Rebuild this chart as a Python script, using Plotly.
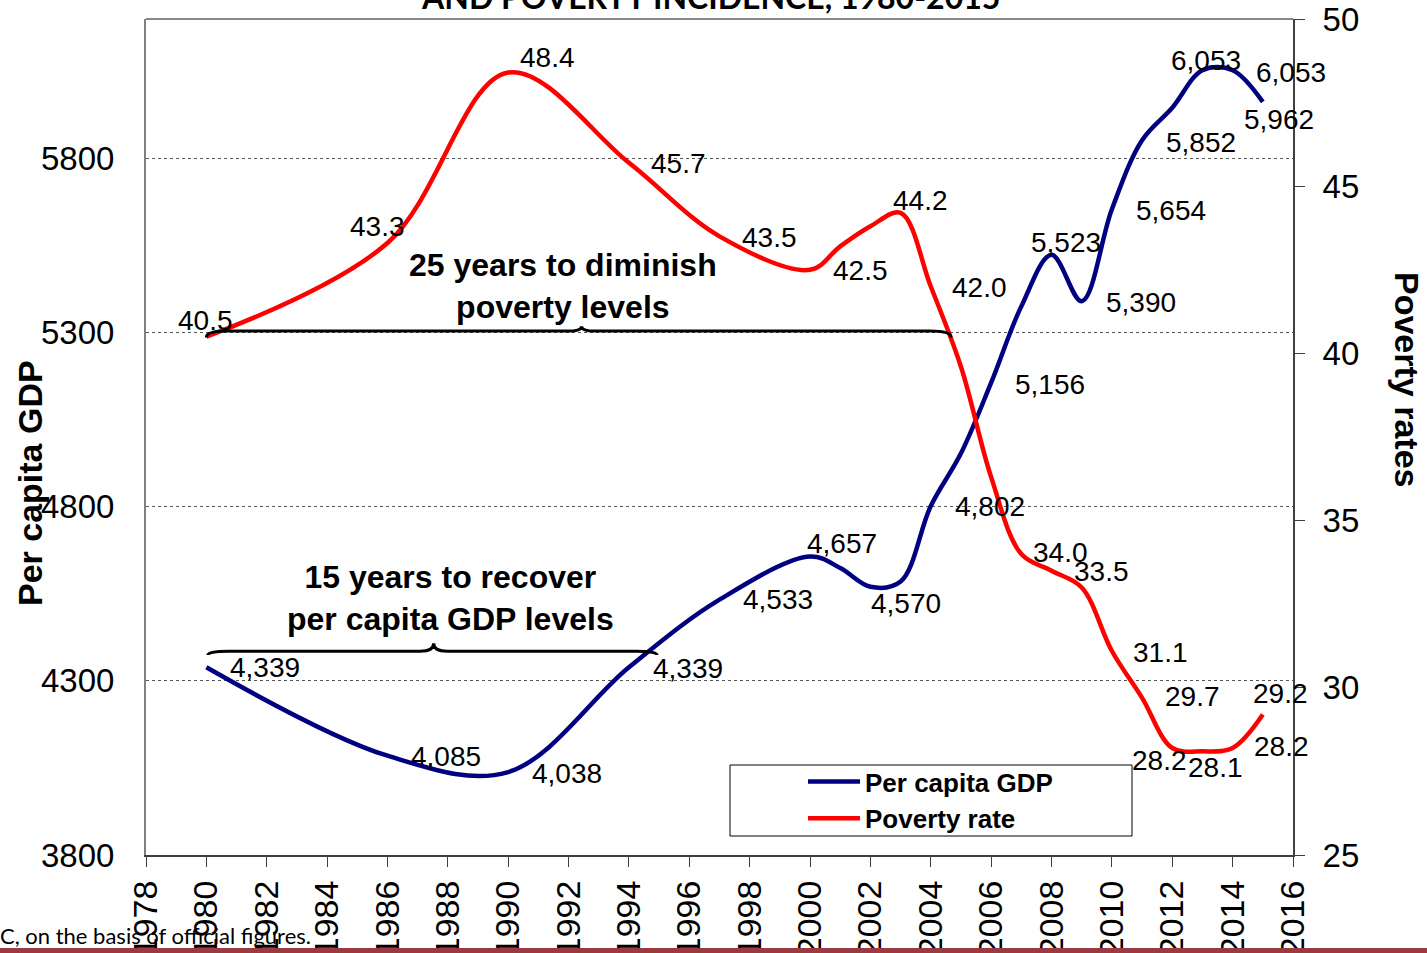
import plotly.graph_objects as go

# ---------------- data ----------------
years = [1980, 1986, 1990, 1994, 1997, 2000, 2001, 2002, 2003, 2004, 2005,
         2006, 2007, 2008, 2009, 2010, 2011, 2012, 2013, 2014, 2015]
gdp_per_capita = [4339, 4085, 4038, 4339, 4533, 4657, 4624, 4570, 4585, 4802, 4953,
                  5156, 5375, 5523, 5390, 5654, 5852, 5945, 6053, 6053, 5962]
poverty_rate = [40.5, 43.3, 48.4, 45.7, 43.5, 42.5, 43.2, 43.8, 44.2, 42.0, 39.6,
                36.3, 34.0, 33.5, 33.0, 31.1, 29.7, 28.2, 28.1, 28.2, 29.2]
gdp_labelled_years = [1980, 1986, 1990, 1994, 1997, 2000, 2002, 2004, 2006,
                      2008, 2009, 2010, 2011, 2013, 2014, 2015]
poverty_labelled_years = [1980, 1986, 1990, 1994, 1997, 2000, 2003, 2004, 2007,
                          2008, 2010, 2011, 2012, 2013, 2014, 2015]
x_tick_years = list(range(1978, 2017, 2))
series_names = ["Per capita GDP", "Poverty rate"]
title_text = "AND POVERTY INCIDENCE, 1980-2015"
source_text = "C, on the basis of official figures."
left_axis_title = "Per capita GDP"
right_axis_title = "Poverty rates"
note_poverty = "25 years to diminish<br>poverty levels"
note_gdp = "15 years to recover<br>per capita GDP levels"

# ---------------- label placement (pixel offsets: right, down) ----------------
gdp_label_offset = {1980: (59, 0), 1986: (59, 1), 1990: (59, 1), 1994: (59, 1),
                    1997: (58, 0), 2000: (32, -13), 2002: (36, 17), 2004: (59, 1),
                    2006: (59, 2), 2008: (14, -12), 2009: (59, 1), 2010: (59, 1),
                    2011: (59, 2), 2013: (4, -10), 2014: (58, 2), 2015: (16, 18)}
pov_label_offset = {1980: (-1, -16), 1986: (-10, -17), 1990: (39, -15), 1994: (50, 1),
                    1997: (50, 1), 2000: (50, 1), 2003: (20, -12), 2004: (49, 1),
                    2007: (39, -2), 2008: (50, 1), 2010: (49, 1), 2011: (50, -1),
                    2012: (-13, 13), 2013: (13, 16), 2014: (49, -1), 2015: (18, -21)}

# ---------------- geometry ----------------
W, H = 1427, 953
L, R, T, B = 146, 134, 19, 98
PW, PH = W - L - R, H - T - B


def px_x(px):
    return (px - L) / PW


def px_y(py):
    return (H - B - py) / PH


FONT = "Liberation Sans, Arial, sans-serif"
BLUE = "#000080"
RED = "#FF0000"

fig = go.Figure()
fig.add_trace(go.Scatter(x=years, y=gdp_per_capita, mode="lines",
                         name="<b>" + series_names[0] + "</b>",
                         line=dict(color=BLUE, width=4.5, shape="spline", smoothing=1.0),
                         yaxis="y"))
fig.add_trace(go.Scatter(x=years, y=poverty_rate, mode="lines",
                         name="<b>" + series_names[1] + "</b>",
                         line=dict(color=RED, width=4.5, shape="spline", smoothing=1.0),
                         yaxis="y2"))

annotations = []
for yr, v in zip(years, gdp_per_capita):
    if yr in gdp_labelled_years:
        dx, dy = gdp_label_offset[yr]
        annotations.append(dict(x=yr, y=v, xref="x", yref="y", text=f"{v:,}",
                                showarrow=False, xanchor="center", yanchor="middle",
                                xshift=dx, yshift=-dy,
                                font=dict(family=FONT, size=28, color="black")))
for yr, v in zip(years, poverty_rate):
    if yr in poverty_labelled_years:
        dx, dy = pov_label_offset[yr]
        annotations.append(dict(x=yr, y=v, xref="x", yref="y2", text=f"{v:.1f}",
                                showarrow=False, xanchor="center", yanchor="middle",
                                xshift=dx, yshift=-dy,
                                font=dict(family=FONT, size=28, color="black")))

# notes
annotations.append(dict(x=px_x(563), y=px_y(286), xref="paper", yref="paper",
                        text="<b>" + note_poverty + "</b>", showarrow=False,
                        xanchor="center", yanchor="middle",
                        font=dict(family=FONT, size=32, color="black")))
annotations.append(dict(x=px_x(450), y=px_y(598), xref="paper", yref="paper",
                        text="<b>" + note_gdp + "</b>", showarrow=False,
                        xanchor="center", yanchor="middle",
                        font=dict(family=FONT, size=32, color="black")))
# axis titles
annotations.append(dict(x=px_x(30), y=px_y(483), xref="paper", yref="paper",
                        text="<b>" + left_axis_title + "</b>", showarrow=False, textangle=-90,
                        xanchor="center", yanchor="middle",
                        font=dict(family=FONT, size=34, color="black")))
annotations.append(dict(x=px_x(1407), y=px_y(379), xref="paper", yref="paper",
                        text="<b>" + right_axis_title + "</b>", showarrow=False, textangle=90,
                        xanchor="center", yanchor="middle",
                        font=dict(family=FONT, size=34, color="black")))
# clipped title
annotations.append(dict(x=px_x(710), y=px_y(-4), xref="paper", yref="paper",
                        text="<b>" + title_text + "</b>", showarrow=False,
                        xanchor="center", yanchor="middle",
                        font=dict(family="Lato, sans-serif", size=32, color="black")))
# source
annotations.append(dict(x=px_x(-2), y=px_y(935), xref="paper", yref="paper",
                        text=source_text, showarrow=False, xanchor="left", yanchor="middle",
                        font=dict(family="Lato, sans-serif", size=22, color="black")))


def brace(x0, x1, xm, y_end, y_h, y_tip, a_end, a_tip):
    return (f"M {x0},{y_end} Q {x0},{y_h} {x0 + a_end},{y_h} "
            f"L {xm - a_tip},{y_h} Q {xm},{y_h} {xm},{y_tip} "
            f"Q {xm},{y_h} {xm + a_tip},{y_h} "
            f"L {x1 - a_end},{y_h} Q {x1},{y_h} {x1},{y_end}")


shapes = [
    # braces
    dict(type="path", xref="x", yref="y",
         path=brace(1980.0, 2004.67, 1992.43, 5286, 5304, 5318, 0.7, 0.45),
         line=dict(color="black", width=3)),
    dict(type="path", xref="x", yref="y",
         path=brace(1980.05, 1994.93, 1987.53, 4374, 4385, 4408, 0.7, 0.45),
         line=dict(color="black", width=3)),
    # top border of plot area
    dict(type="line", xref="paper", yref="paper", x0=0, x1=1, y0=1, y1=1,
         line=dict(color="#888888", width=2)),
    # legend box
    dict(type="rect", xref="paper", yref="paper", x0=px_x(730), x1=px_x(1132),
         y0=px_y(836), y1=px_y(765), line=dict(color="black", width=1)),
    # bottom band
    dict(type="rect", xref="paper", yref="paper", x0=px_x(0), x1=px_x(W),
         y0=px_y(953), y1=px_y(948), line=dict(width=0), fillcolor="#9E3A3F"),
]

fig.update_layout(
    width=W, height=H,
    margin=dict(l=L, r=R, t=T, b=B, pad=0, autoexpand=False),
    paper_bgcolor="white", plot_bgcolor="white",
    font=dict(family=FONT, color="black"),
    showlegend=True,
    legend=dict(x=px_x(803), y=px_y(758), xanchor="left", yanchor="top",
                bgcolor="rgba(0,0,0,0)", borderwidth=0,
                font=dict(family=FONT, size=26, color="black"),
                itemwidth=52, tracegroupgap=0),
    xaxis=dict(range=[1978, 2016], tickvals=x_tick_years, tickangle=-90,
               ticks="outside", ticklen=10, tickcolor="#404040", tickwidth=1,
               showline=True, linecolor="#404040", linewidth=2,
               showgrid=False, zeroline=False, automargin=False,
               tickfont=dict(family=FONT, size=34, color="black")),
    yaxis=dict(range=[3800, 6200], tick0=3800, dtick=500,
               showgrid=True, gridcolor="#555555", griddash="dot", gridwidth=1,
               showline=True, linecolor="#808080", linewidth=2,
               ticks="", zeroline=False, ticklabelstandoff=23, automargin=False,
               tickfont=dict(family=FONT, size=33, color="black")),
    yaxis2=dict(range=[25, 50], tick0=25, dtick=5, overlaying="y", side="right",
                showgrid=False, showline=True, linecolor="#404040", linewidth=2,
                ticks="outside", ticklen=10, tickcolor="#404040", zeroline=False,
                ticklabelstandoff=11, automargin=False,
                tickfont=dict(family=FONT, size=33, color="black")),
    annotations=annotations,
    shapes=shapes,
)

fig.write_html("out.html", config={"displayModeBar": False},
               post_script="document.body.style.margin='0';document.body.style.overflow='hidden';")
